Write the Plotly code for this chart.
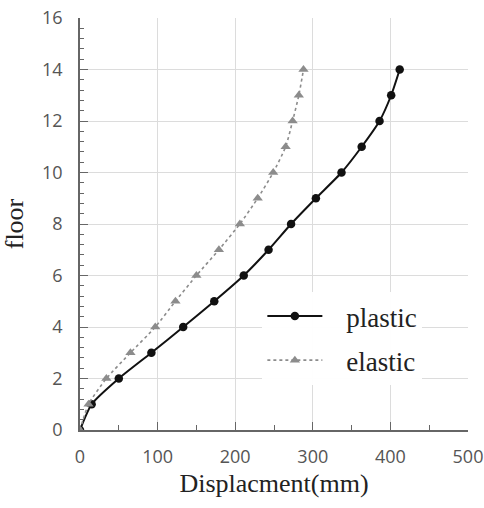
import plotly.graph_objects as go

# floors and displacement readings (mm)
floors = list(range(0, 15))
plastic_disp = [0, 15, 50, 92, 133, 173, 211, 243, 272, 304, 337, 363, 386, 401, 412]
elastic_disp = [0, 11, 34, 65, 97, 123, 150, 179, 206, 229, 249, 265, 274, 282, 288]

x_ticks = [0, 100, 200, 300, 400, 500]
y_ticks = [0, 2, 4, 6, 8, 10, 12, 14, 16]

serif = "Liberation Serif, DejaVu Serif, serif"
sans = "Open Sans, DejaVu Sans, sans-serif"

fig = go.Figure()

fig.add_trace(go.Scatter(
    x=plastic_disp, y=floors, name="\u2002\u2009plastic", mode="lines+markers",
    line=dict(color="#111111", width=2, shape="spline", smoothing=0.6),
    marker=dict(symbol="circle", size=8.5, color="#111111"),
    legendgroup="a",
))
fig.add_trace(go.Scatter(
    x=elastic_disp, y=floors, name="\u2002\u2009elastic", mode="lines+markers",
    line=dict(color="#8c8c8c", width=1.6, dash="dot", shape="spline", smoothing=0.6),
    marker=dict(symbol="triangle-up", size=9, color="#8c8c8c"),
    legendgroup="b",
))

fig.update_layout(
    width=484, height=508,
    margin=dict(l=80, r=16, t=18, b=78),
    plot_bgcolor="white", paper_bgcolor="white",
    showlegend=True,
    legend=dict(
        x=0.47, y=0.335, xanchor="left", yanchor="top",
        bgcolor="rgba(255,255,255,0.95)",
        font=dict(family=serif, size=27, color="#222222"),
        tracegroupgap=6,
        itemwidth=55,
    ),
)

fig.update_xaxes(
    range=[0, 500], tickvals=x_ticks, showgrid=True, gridcolor="#dcdcdc", gridwidth=1,
    showline=True, linecolor="#666666", linewidth=1.5, zeroline=False,
    ticks="inside", ticklen=8, tickcolor="#666666", ticklabelstandoff=10,
    ticklabeloverflow="allow",
    minor=dict(dtick=50, ticks="inside", ticklen=5, tickcolor="#666666", showgrid=False),
    tickfont=dict(family=sans, size=18, color="#555555"),
    title=dict(text="Displacment(mm)", font=dict(family=serif, size=26, color="#222222"), standoff=6),
    automargin=False,
)
fig.update_yaxes(
    range=[0, 16], tickvals=y_ticks, showgrid=True, gridcolor="#dcdcdc", gridwidth=1,
    showline=True, linecolor="#666666", linewidth=1.5, zeroline=False,
    ticks="inside", ticklen=8, tickcolor="#666666", ticklabelstandoff=12,
    ticklabeloverflow="allow",
    minor=dict(dtick=0.4, ticks="inside", ticklen=4, tickcolor="#666666", showgrid=False),
    tickfont=dict(family=sans, size=18, color="#555555"),
    title=dict(text="floor", font=dict(family=serif, size=26, color="#222222"), standoff=15),
    automargin=False,
)

# drop the default page margin so the figure sits at the window's corner
fig.write_html("out.html", config={"displayModeBar": False},
               post_script="document.body.style.margin='0';")
